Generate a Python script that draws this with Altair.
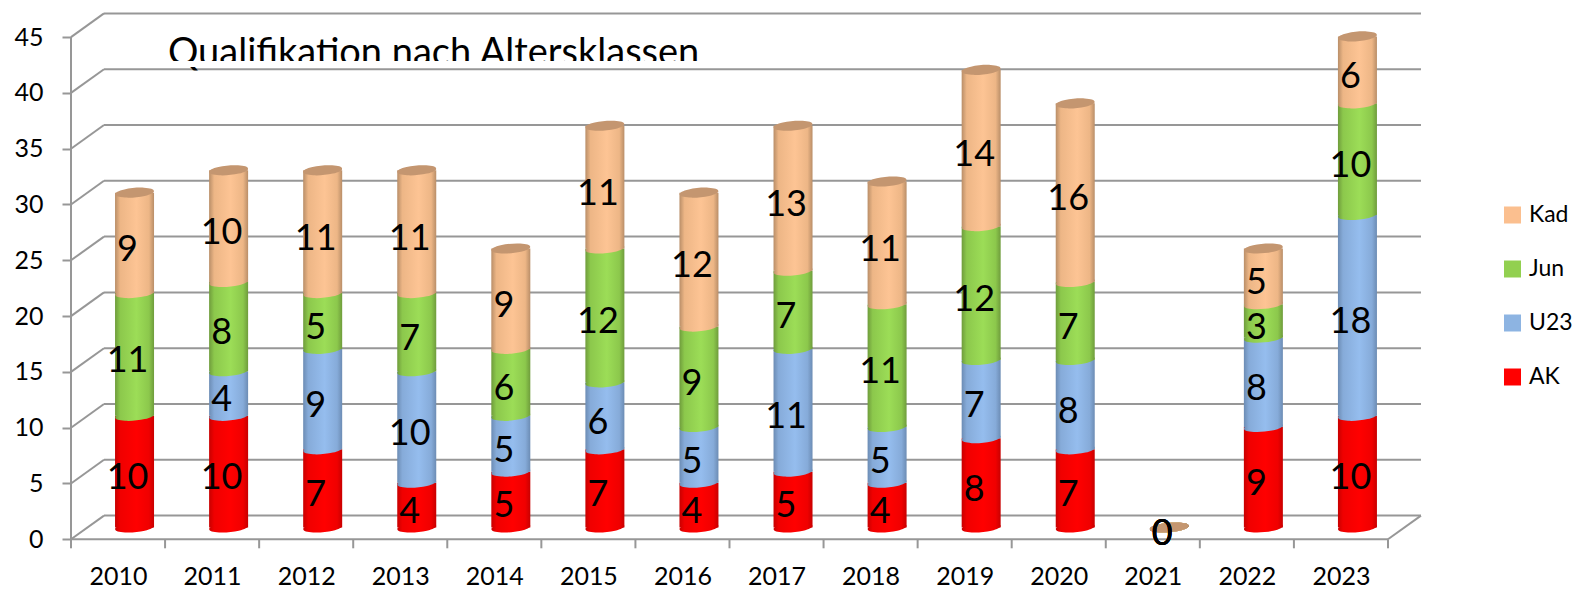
import altair as alt
import pandas as pd

years = list(range(2010, 2024))
AK = [10, 10, 7, 4, 5, 7, 4, 5, 4, 8, 7, 0, 9, 10]
U23 = [None, 4, 9, 10, 5, 6, 5, 11, 5, 7, 8, 0, 8, 18]
Jun = [11, 8, 5, 7, 6, 12, 9, 7, 11, 12, 7, 0, 3, 10]
Kad = [9, 10, 11, 11, 9, 11, 12, 13, 11, 14, 16, 0, 5, 6]
series_names = ["AK", "U23", "Jun", "Kad"]
series_values = [AK, U23, Jun, Kad]
y_ticks = list(range(0, 50, 5))
title_text = "Qualifikation nach Altersklassen"
legend_order = ["Kad", "Jun", "U23", "AK"]
legend_colors = ["#FBBF8F", "#92D050", "#8DB4E2", "#FF0000"]

FONT = "Lato"
GRID = "#979797"
PX_X = 94.07
PX_Y = 11.16
DEPTH_X = 33 / PX_X
DEPTH_Y = 23.7 / PX_Y
X0 = 2009.5
X1 = X0 + 14
PLOT_W = 1351
PLOT_H = 527.3


def grad(dark, mid, light):
    return alt.Gradient(
        gradient="linear", x1=0, x2=1, y1=0, y2=0,
        stops=[
            alt.GradientStop(color=dark, offset=0),
            alt.GradientStop(color=mid, offset=0.13),
            alt.GradientStop(color=light, offset=0.55),
            alt.GradientStop(color=mid, offset=0.87),
            alt.GradientStop(color=dark, offset=1),
        ],
    )


fills = {
    "AK": grad("#C80000", "#F00000", "#FF0000"),
    "U23": grad("#6C8CB4", "#86ABD9", "#95BDEE"),
    "Jun": grad("#6F9C3C", "#8CC84C", "#9CDD57"),
    "Kad": grad("#B98E68", "#EDB686", "#FDC494"),
}
TOP_FILL = "#C49670"
ELLIPSE = "M -0.996 0.087 A 1 0.24 -5 1 1 0.996 -0.087 A 1 0.24 -5 1 1 -0.996 0.087 Z"
CYL_W = 39

rows = []
for i, y in enumerate(years):
    base = 0
    for name, vals in zip(series_names, series_values):
        v = vals[i]
        if v is None:
            continue
        rows.append({
            "year": y, "series": name, "value": v,
            "cx": y + DEPTH_X / 2,
            "y0": base + DEPTH_Y / 2, "y1": base + v + DEPTH_Y / 2,
            "mid": base + v / 2,
        })
        base += v
df = pd.DataFrame(rows)
tops = df.groupby("year", as_index=False).agg(cx=("cx", "first"), y1=("y1", "max"))

x_scale = alt.Scale(domain=[X0, X0 + PLOT_W / PX_X], nice=False, zero=False, padding=0)
y_scale = alt.Scale(domain=[0, PLOT_H / PX_Y], nice=False, zero=False, padding=0)
X = lambda f: alt.X(f, type="quantitative", scale=x_scale, title=None)
Y = lambda f: alt.Y(f, type="quantitative", scale=y_scale, title=None)


def rules(frame, width=2, color=GRID):
    return alt.Chart(frame).mark_rule(color=color, strokeWidth=width).encode(
        x=X("x"), x2="x2", y=Y("y"), y2="y2"
    )


ticks_df = pd.DataFrame({"t": y_ticks})
back = pd.DataFrame({
    "x": X0 + DEPTH_X, "x2": X1 + DEPTH_X,
    "y": ticks_df.t + DEPTH_Y, "y2": ticks_df.t + DEPTH_Y,
})
slant = pd.DataFrame({
    "x": X0, "x2": X0 + DEPTH_X, "y": ticks_df.t, "y2": ticks_df.t + DEPTH_Y,
})
frame_df = pd.DataFrame([
    {"x": X0, "x2": X0, "y": 0, "y2": 45},
    {"x": X0, "x2": X1, "y": 0, "y2": 0},
    {"x": X1, "x2": X1 + DEPTH_X, "y": 0, "y2": DEPTH_Y},
])
xticks = pd.DataFrame({
    "x": [X0 + k for k in range(15)], "x2": [X0 + k for k in range(15)],
    "y": 0, "y2": -9 / PX_Y,
})

axis_layer = alt.Chart(pd.DataFrame({"year": [years[0]], "t": [y_ticks[0]]})).mark_point(
    size=0, opacity=0
).encode(
    x=alt.X("year:Q", scale=x_scale, title=None,
            axis=alt.Axis(values=years, format="d", domain=False, grid=False, tickSize=0,
                          labelPadding=25, labelFontSize=25, labelFont=FONT, labelColor="#000000",
                          labelFlush=False, labelOverlap=False)),
    y=alt.Y("t:Q", scale=y_scale, title=None,
            axis=alt.Axis(values=y_ticks, domain=False, grid=False, tickSize=9, tickWidth=2,
                          tickColor=GRID, labelPadding=19, labelFontSize=25, labelFont=FONT,
                          labelColor="#000000", labelOverlap=False)),
)

title_mark = alt.Chart(pd.DataFrame({"x": [X0 + 97 / PX_X], "y": [(539.3 - 65) / PX_Y], "label": [title_text]})).mark_text(
    font=FONT, fontSize=38, align="left", baseline="alphabetic", color="#000000"
).encode(x=X("x"), y=Y("y"), text="label:N")
title_mask = alt.Chart(pd.DataFrame({
    "x": [X0 + 90 / PX_X], "x2": [X0 + 640 / PX_X],
    "y": [(539.3 - 61) / PX_Y], "y2": [(539.3 - 67) / PX_Y],
})).mark_rect(color="#FFFFFF").encode(x=X("x"), x2="x2", y=Y("y"), y2="y2")

cylinders = []
for name in series_names:
    sub = df[df.series == name]
    cylinders.append(
        alt.Chart(sub).mark_bar(width=CYL_W, fill=fills[name], orient="vertical", strokeWidth=0).encode(
            x=X("cx"), y=Y("y0"), y2="y1"
        )
    )
    cylinders.append(
        alt.Chart(sub).mark_point(
            shape=ELLIPSE, size=CYL_W ** 2, filled=True, fill=fills[name], opacity=1, strokeWidth=0
        ).encode(x=X("cx"), y=Y("y0"))
    )

top_caps = alt.Chart(tops).mark_point(
    shape=ELLIPSE, size=CYL_W ** 2, filled=True, fill=TOP_FILL, opacity=1, strokeWidth=0
).encode(x=X("cx"), y=Y("y1"))

labels_txt = alt.Chart(df).mark_text(
    font=FONT, fontSize=36, color="#000000", baseline="middle", dx=9.5, dy=-5
).encode(x=X("year"), y=Y("mid"), text="value:Q")

legend_layer = alt.Chart(df).mark_point(size=0, filled=True, opacity=0).encode(
    x=X("cx"), y=Y("y0"),
    color=alt.Color(
        "series:N", scale=alt.Scale(domain=legend_order, range=legend_colors),
        legend=alt.Legend(
            title=None, orient="none", legendX=1430, legendY=191.5, symbolType="square",
            symbolSize=289, symbolOpacity=1, symbolStrokeWidth=0, labelFont=FONT, labelFontSize=23,
            labelColor="#000000", rowPadding=30, labelOffset=5,
        ),
    ),
)

chart = alt.layer(
    rules(back), rules(slant), rules(frame_df), rules(xticks),
    axis_layer, title_mark, title_mask,
    *cylinders, top_caps, labels_txt, legend_layer,
).properties(
    width=PLOT_W, height=PLOT_H,
    autosize=alt.AutoSizeParams(type="none"),
    padding={"left": 63, "top": 4, "right": 150, "bottom": 50},
).configure_view(stroke=None)

chart.save("out.html", embed_options={"renderer": "svg", "actions": False})
